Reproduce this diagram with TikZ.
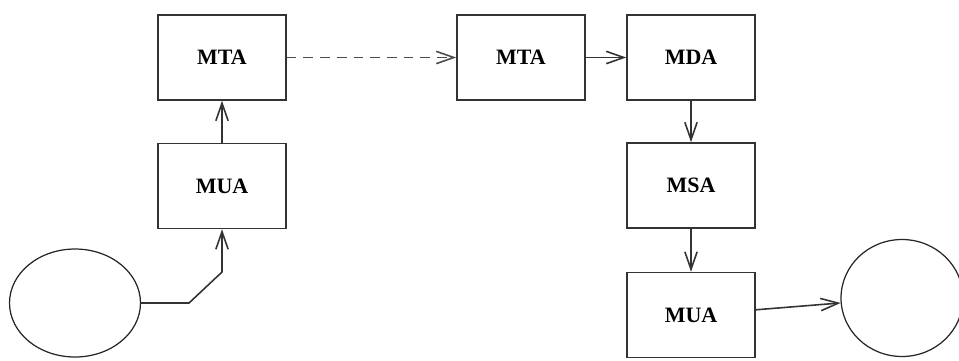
\documentclass[tikz,border=0pt]{standalone}
\usepackage{fontspec}
\setmainfont{Liberation Serif}
\usepackage{tikz}
\usetikzlibrary{shapes, arrows.meta, positioning}

\begin{document}
\begin{tikzpicture}[x=0.02cm, y=-0.02cm,
    >={Straight Barb[length=10pt,width=7pt]}]
        \useasboundingbox (0,0) rectangle (959,360);
        \begin{scope}[every node/.style={draw=black!80,line width=0.9pt,rectangle,
            minimum width=2.56cm,minimum height=1.7cm,inner sep=0pt,
            font=\fontsize{12.5}{14}\selectfont\bfseries}]
          \node (mtaL) at (222,57.5) {MTA};
          \node (muaL) at (222,186) {MUA};
          \node (mtaR) at (521,57.5) {MTA};
          \node (mda) at (691,57.5) {MDA};
          \node (msa) at (691,185.5) {MSA};
          \node (muaR) at (691,315) {MUA};
        \end{scope}
        \begin{scope}[every node/.style={draw=black!85,line width=0.7pt,ellipse,inner sep=0pt}]
          \node[minimum width=2.62cm,minimum height=2.16cm] (lell) at (75,303) {};
          \node[minimum width=2.44cm,minimum height=2.34cm] (rell) at (902,298) {};
        \end{scope}
        \coordinate (bend) at (189,303);
        \coordinate (kink) at (222,272);
        \begin{scope}[every edge/.style={draw=black!80,line width=0.9pt}]
          \path (mtaL) edge[->,dash pattern=on 5.5pt off 4pt,draw=black!70] (mtaR);
          \path (mtaR) edge[->] (mda);
          \path (mda) edge[->] (msa);
          \path (msa) edge[->] (muaR);
          \path (muaR) edge[->] (rell);
          \path (muaL) edge[->] (mtaL);
          \draw[->,draw=black!80,line width=0.9pt] (lell.east) -- (bend) -- (kink) -- (muaL.south);
        \end{scope}
      \end{tikzpicture}
\end{document}
